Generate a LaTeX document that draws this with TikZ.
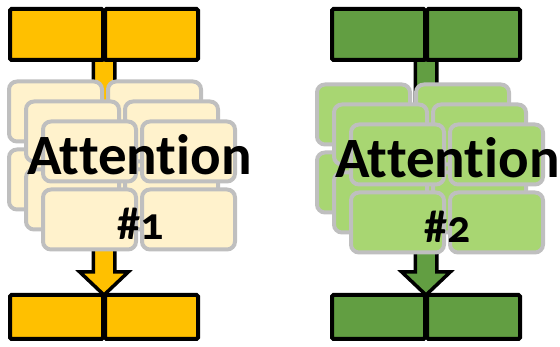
\documentclass[tikz,border=0pt]{standalone}
\usepackage{fontspec}
\setmainfont{Carlito}[Numbers=OldStyle, Ligatures=NoCommon]
\usetikzlibrary{calc, backgrounds}

\definecolor{orangeA}{HTML}{FFC000}
\definecolor{orangeB}{HTML}{FFF2CC}
\definecolor{greenA}{HTML}{629E42}
\definecolor{greenB}{HTML}{A8D672}
\definecolor{cardline}{HTML}{BFBFBF}

\begin{document}
\begin{tikzpicture}[
  x=1pt, y=1pt,
  every node/.style={inner sep=0pt, outer sep=0pt},
  cell/.style={rectangle, draw=black, line width=4pt, rounded corners=1.5pt,
    minimum width=93pt},
  card/.style={rectangle, draw=cardline, line width=4pt, rounded corners=8pt,
    minimum width=93pt, minimum height=60pt},
  % block arrow running from a bar down to the next one
  flow/.style={draw=black, line width=3.5pt, line join=miter},
  big/.style={font=\bfseries\fontsize{57}{57}\selectfont, anchor=base},
  tag/.style={font=\bfseries\fontsize{46}{46}\selectfont, anchor=base}]

  \useasboundingbox (0,0) rectangle (560,347);

  % bars, heads #1
  \node[cell, fill=orangeA, minimum height=51pt] (top1l) at (56.5,312.5) {};
  \node[cell, fill=orangeA, minimum height=51pt] (top1r) at (151.5,312.5) {};
  \node[cell, fill=orangeA, minimum height=44pt] (bot1l) at (56.5,30) {};
  \node[cell, fill=orangeA, minimum height=44pt] (bot1r) at (151.5,30) {};
  % bars, heads #2
  \node[cell, fill=greenA, minimum height=51pt] (top2l) at (378.5,312.5) {};
  \node[cell, fill=greenA, minimum height=51pt] (top2r) at (473.5,312.5) {};
  \node[cell, fill=greenA, minimum height=44pt] (bot2l) at (378.5,30) {};
  \node[cell, fill=greenA, minimum height=44pt] (bot2r) at (473.5,30) {};

  % where the arrows leave and land
  \coordinate (out1) at ($(top1l.south east)!0.5!(top1r.south west)$);
  \coordinate (in1)  at ($(bot1l.north east)!0.5!(bot1r.north west)$);
  \coordinate (out2) at ($(top2l.south east)!0.5!(top2r.south west)$);
  \coordinate (in2)  at ($(bot2l.north east)!0.5!(bot2r.north west)$);

  % arrows, behind bars and cards
  \begin{pgfonlayer}{background}
  \draw[flow, fill=orangeA] ($(out1)+(-10.75,0)$) -- ($(in1)+(-10.75,23)$)
    -- ($(in1)+(-24.25,23)$) -- (in1) -- ($(in1)+(24.25,23)$)
    -- ($(in1)+(10.75,23)$) -- ($(out1)+(10.75,0)$) -- cycle;
  \draw[flow, fill=greenA] ($(out2)+(-10.75,0)$) -- ($(in2)+(-10.75,23)$)
    -- ($(in2)+(-24.25,23)$) -- (in2) -- ($(in2)+(24.25,23)$)
    -- ($(in2)+(10.75,23)$) -- ($(out2)+(10.75,0)$) -- cycle;
  \end{pgfonlayer}

  % three stacked layers of 2x2 cards, back to front
  \foreach \l in {1,2,3} {
    \foreach \r/\y in {1/195.5, 2/127.5} {
      \foreach \c/\x in {1/89.5, 2/188.5} {
        \node[card, fill=orangeB] (a\l\r\c) at (\x+17*\l-51, \y-20*\l+60) {};
        \node[card, fill=greenB]  (b\l\r\c) at (\x+17*\l+257, \y-20*\l+57) {};
      }
    }
  }

  % labels printed inside the picture
  \node[big] (name1) at (139.5,172) {Attention};
  \node[tag] (num1)  at (141,107) {\#1};
  \node[big] (name2) at (447.5,169) {Attention};
  \node[tag] (num2)  at (448,104) {\#2};
\end{tikzpicture}
\end{document}
